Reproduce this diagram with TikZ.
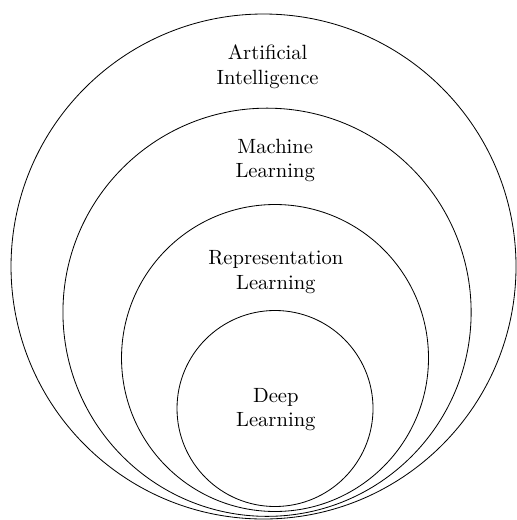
\documentclass[tikz,border=0pt]{standalone}
\usepackage{tikz}

\tikzset{
    areatext/.style={align=center, inner sep=1pt}
}

\begin{document}
\begin{tikzpicture}
    \useasboundingbox (-4.493,-4.322) rectangle (4.305,4.544);
    % nested fields
    \draw (0,0) circle (4.305);
    \draw (0.06,-0.78) circle (3.48);
    \draw (0.196,-1.56) circle (2.617);
    \draw (0.196,-2.421) circle (1.671);
    % names
    \node[areatext] (ai) at (0.07,3.41) {Artificial\\Intelligence};
    \node[areatext] (ml) at (0.2,1.81) {Machine\\Learning};
    \node[areatext] (rl) at (0.21,-0.09) {Representation\\Learning};
    \node[areatext] (dl) at (0.21,-2.44) {Deep\\Learning};
\end{tikzpicture}
\end{document}
